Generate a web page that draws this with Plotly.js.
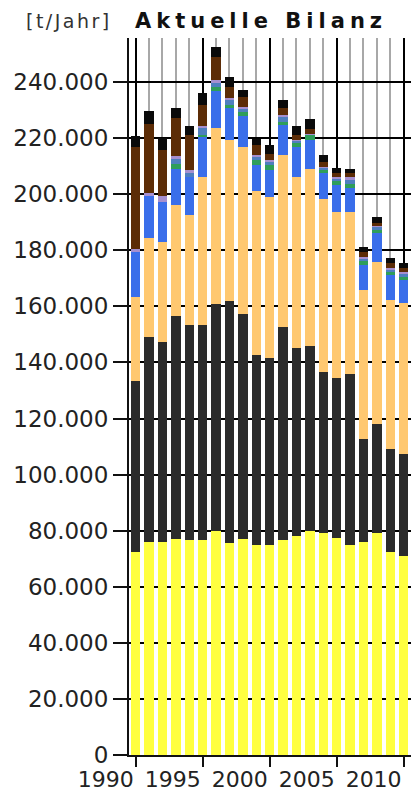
<!DOCTYPE html>
<html>
<head>
<meta charset="utf-8">
<script src="https://cdn.plot.ly/plotly-3.0.1.min.js"></script>
<style>
html,body{margin:0;padding:0;background:#fff;}
#chart{width:411px;height:796px;}
.gtitle{letter-spacing:5px;}
.annotation-text{letter-spacing:2.5px;}
</style>
</head>
<body>
<div id="chart"></div>
<script>
// Years (categories)
const years = [1990,1991,1992,1993,1994,1995,1996,1997,1998,1999,2000,2001,2002,2003,2004,2005,2006,2007,2008,2009,2010];

// Series values in t/Jahr (stack order bottom -> top)
const seriesYellow = [72500,76000,76000,77000,76500,76500,80000,75500,77000,75000,75000,76500,78000,80000,79000,77500,75000,76000,79000,72500,71000];
const seriesDark   = [61000,73000,71400,79600,76900,76900,81000,86500,80300,67700,66500,76200,67000,66000,57700,56800,61000,36700,39000,36500,36300];
const seriesOrange = [29800,35300,35600,39400,39100,52800,62500,57300,59400,58300,57500,61300,61000,62900,61500,59500,57800,53300,57900,53300,53800];
const seriesBlue   = [16000,15000,14300,13000,13500,14200,13400,11300,11200,9400,9600,10700,10900,10400,9200,9500,8400,8700,10100,8900,8300];
const seriesGreen  = [0,0,0,1800,0,800,1400,1200,1500,1800,1800,1100,1200,1700,1200,1300,1300,1300,1200,1200,1200];
const seriesBlue2  = [0,0,0,1700,1500,2300,1200,1700,1100,1100,1100,1700,700,0,700,800,1500,1000,1000,600,900];
const seriesPurple = [1000,1200,2200,1000,1200,800,1200,700,700,700,700,700,500,300,500,600,1000,700,600,600,700];
const seriesBrown  = [36700,24700,16300,13500,12300,7500,8300,4100,3600,3500,2300,2400,1800,2100,1800,1400,1400,1800,1000,1700,1400];
const seriesBlack  = [3700,4300,4200,3600,3300,4200,3600,3500,2400,2300,3000,3000,3200,3300,2400,2000,1600,1800,2200,2100,1700];

const seriesList = [
  {v: seriesYellow, c: '#FFFF40'},
  {v: seriesDark,   c: '#2B2B2B'},
  {v: seriesOrange, c: '#FFC870'},
  {v: seriesBlue,   c: '#3A6EEA'},
  {v: seriesGreen,  c: '#2E9E5A'},
  {v: seriesBlue2,  c: '#4E7FBF'},
  {v: seriesPurple, c: '#A58FD0'},
  {v: seriesBrown,  c: '#5C2C06'},
  {v: seriesBlack,  c: '#0A0A0A'}
];

const traces = seriesList.map(s => ({
  type: 'bar',
  x: years,
  y: s.v,
  width: 0.7,
  marker: {color: s.c, line: {width: 0}},
  hoverinfo: 'x+y',
  showlegend: false
}));

const layout = {
  width: 411,
  height: 796,
  margin: {l: 129, r: 0, t: 38, b: 41},
  paper_bgcolor: '#fff',
  plot_bgcolor: '#fff',
  barmode: 'stack',
  separators: ',.',
  showlegend: false,
  title: {
    text: 'Aktuelle Bilanz',
    font: {family: 'DejaVu Sans', size: 21, weight: 'bold', color: '#111'},
    x: 261/411, xanchor: 'center', xref: 'container',
    y: 1 - 21/796, yanchor: 'middle', yref: 'container'
  },
  annotations: [{
    text: '[t/Jahr]',
    xref: 'paper', yref: 'paper',
    x: (24 - 129)/282, xanchor: 'left',
    y: 1 + 17/717, yanchor: 'middle',
    showarrow: false,
    font: {family: 'DejaVu Sans', size: 19, color: '#333'}
  }],
  xaxis: {
    range: [1989.5, 2010.55],
    tick0: 1990, dtick: 5,
    showgrid: true, gridcolor: '#000', gridwidth: 2,
    minor: {dtick: 1, showgrid: true, gridcolor: '#A8A8A8', gridwidth: 2, ticks: ''},
    ticks: 'outside', ticklen: 10, tickwidth: 2, tickcolor: '#111',
    ticklabelposition: 'outside left',
    ticklabelstandoff: 4,
    showline: true, linecolor: '#111', linewidth: 2,
    zeroline: false,
    tickfont: {family: 'DejaVu Sans', size: 22, color: '#222'},
    fixedrange: true
  },
  yaxis: {
    range: [0, 255700],
    tick0: 0, dtick: 20000,
    tickformat: ',d',
    showgrid: true, gridcolor: '#000', gridwidth: 2,
    ticks: 'outside', ticklen: 14, tickwidth: 2, tickcolor: '#111',
    showline: true, linecolor: '#111', linewidth: 2,
    zeroline: false,
    tickfont: {family: 'DejaVu Sans', size: 23, color: '#222'},
    fixedrange: true
  }
};

Plotly.newPlot('chart', traces, layout, {displayModeBar: false, staticPlot: true});
</script>
</body>
</html>
